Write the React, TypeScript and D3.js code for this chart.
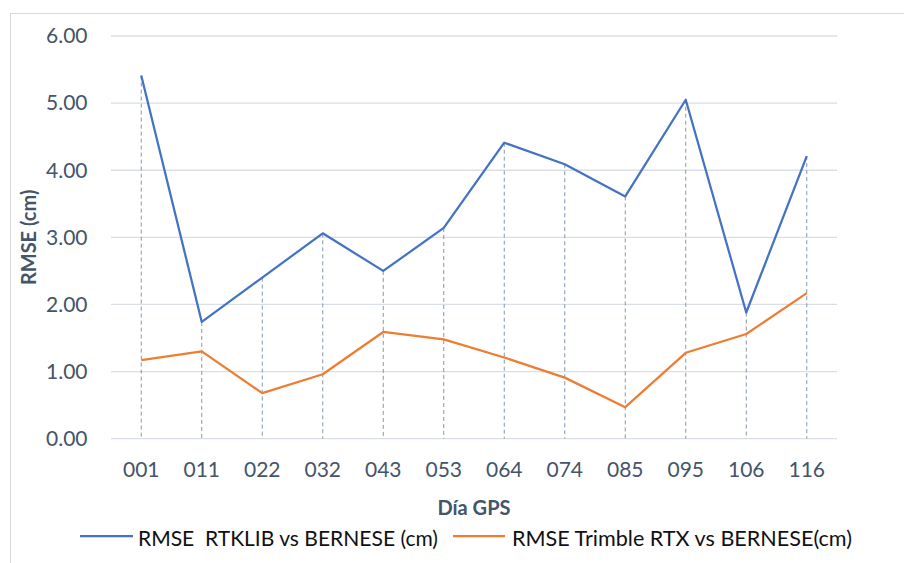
import React from 'react';
import { scaleBand, scaleLinear, line } from 'd3';

const days = ['001', '011', '022', '032', '043', '053', '064', '074', '085', '095', '106', '116'];
const rtklib = [5.41, 1.74, 2.40, 3.06, 2.50, 3.14, 4.41, 4.09, 3.61, 5.05, 1.88, 4.21];
const trimble = [1.17, 1.30, 0.68, 0.96, 1.59, 1.48, 1.21, 0.91, 0.47, 1.28, 1.56, 2.17];
const yTicks = [0, 1, 2, 3, 4, 5, 6];
const seriesNames = ['RMSE  RTKLIB vs BERNESE (cm)', 'RMSE Trimble RTX vs BERNESE(cm)'];

const W = 904;
const H = 563;
const font = 'Lato, "Open Sans", sans-serif';
const textColor = '#44546a';

function App() {
  const x = scaleBand<string>().domain(days).range([111, 837]);
  const y = scaleLinear().domain([0, 6]).range([438.7, 36]);
  const cx = (d: string) => (x(d) || 0) + x.bandwidth() / 2;

  const mkLine = line<number>()
    .x((v, i) => cx(days[i]))
    .y(v => y(v));

  return (
    <svg width={W} height={H} style={{ position: 'absolute', left: 0, top: 0, background: '#fff' }}
      fontFamily={font}>
      <rect x={10.5} y={13.5} width={W + 10} height={H + 10} fill="#fff" stroke="#d9d9d9" />

      {/* gridlines */}
      {yTicks.map(t => (
        <line key={t} x1={111} x2={837} y1={y(t)} y2={y(t)} stroke="#dadfe6" strokeWidth={1.3} />
      ))}

      {/* drop lines from the higher series to the axis */}
      {days.map((d, i) => (
        <line key={d} x1={cx(d)} x2={cx(d)} y1={y(Math.max(rtklib[i], trimble[i]))} y2={y(0)}
          stroke="#8497b0" strokeWidth={1} strokeDasharray="4,3" />
      ))}

      <path d={mkLine(rtklib) || ''} fill="none" stroke="#4472c4" strokeWidth={2.25} strokeLinejoin="round" />
      <path d={mkLine(trimble) || ''} fill="none" stroke="#ed7d31" strokeWidth={2.25} strokeLinejoin="round" />

      {/* y tick labels */}
      {yTicks.map(t => (
        <text key={t} x={87.5} y={y(t)} dy="0.35em" textAnchor="end" fontSize={21} fill={textColor}>
          {t.toFixed(2)}
        </text>
      ))}

      {/* x tick labels */}
      {days.map(d => (
        <text key={d} x={cx(d)} y={470} dy="0.35em" textAnchor="middle" fontSize={21} fill={textColor}>
          {d}
        </text>
      ))}

      <text x={474} y={508} dy="0.35em" textAnchor="middle" fontSize={20} fontWeight="bold" fill={textColor}>
        Día GPS
      </text>
      <text transform={`translate(29,${y(3)}) rotate(-90)`} dy="0.35em" textAnchor="middle" fontSize={20}
        fontWeight="bold" fill={textColor}>
        RMSE (cm)
      </text>

      {/* legend */}
      <line x1={80} x2={133} y1={536} y2={536} stroke="#4472c4" strokeWidth={2.25} />
      <text x={138} y={538} dy="0.35em" fontSize={21.5} fill="#111" style={{ whiteSpace: 'pre' }}
        textLength={300} lengthAdjust="spacingAndGlyphs">{seriesNames[0]}</text>
      <line x1={453} x2={505} y1={536} y2={536} stroke="#ed7d31" strokeWidth={2.25} />
      <text x={512} y={538} dy="0.35em" fontSize={21.5} fill="#111" style={{ whiteSpace: 'pre' }}
        textLength={340} lengthAdjust="spacingAndGlyphs">{seriesNames[1]}</text>
    </svg>
  );
}

export default App;
